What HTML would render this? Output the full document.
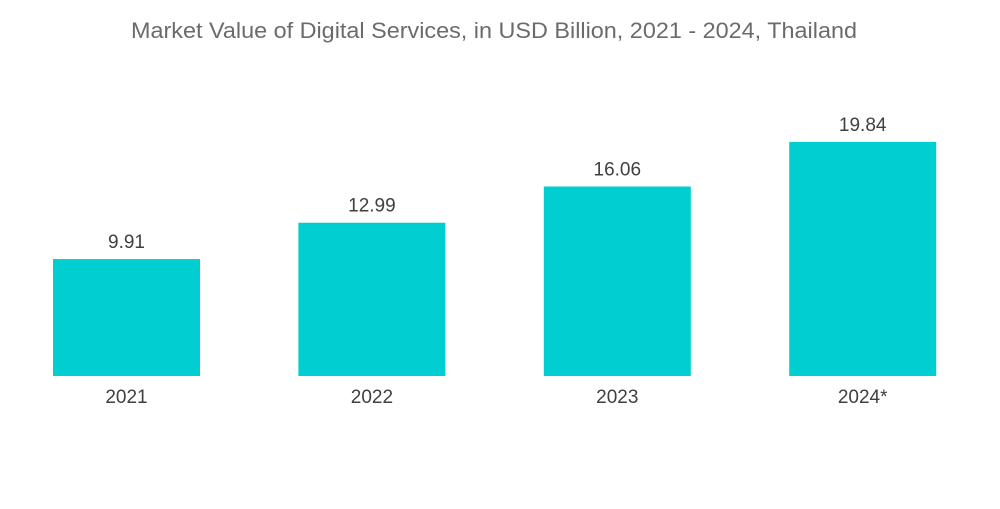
<!DOCTYPE html>
<html><head><meta charset="utf-8"><style>
body{margin:0;background:#fff;width:1000px;height:504px;overflow:hidden;font-family:"Liberation Sans",sans-serif}
</style></head><body>
<svg width="1000" height="504">
<text x="131" y="38" textLength="726" lengthAdjust="spacingAndGlyphs" font-size="22" fill="#6b6b6b">Market Value of Digital Services, in USD Billion,  2021 - 2024, Thailand</text>
<g id="bars"></g>
</svg>
<script>
const categories=["2021","2022","2023","2024*"];
const values=[9.91,12.99,16.06,19.84];
const valueLabels=["9.91","12.99","16.06","19.84"];
const baseY=376, pxPerUnit=11.8, x0=53, step=245.4, bw=147;
function xPos(i){return x0+i*step;}
function yPos(v){return baseY-v*pxPerUnit;}
const g=document.getElementById('bars');
const ns='http://www.w3.org/2000/svg';
categories.forEach((c,i)=>{
  const r=document.createElementNS(ns,'rect');
  r.setAttribute('x',xPos(i));r.setAttribute('y',yPos(values[i]));
  r.setAttribute('width',bw);r.setAttribute('height',baseY-yPos(values[i]));
  r.setAttribute('fill','#00ced1');
  
  
  g.appendChild(r);
  const t=document.createElementNS(ns,'text');
  t.setAttribute('x',xPos(i)+bw/2);t.setAttribute('y',yPos(values[i])-11);
  t.setAttribute('text-anchor','middle');t.setAttribute('font-size','19');t.setAttribute('fill','#404040');
  t.textContent=valueLabels[i];
  
  
  g.appendChild(t);
  const a=document.createElementNS(ns,'text');
  a.setAttribute('x',xPos(i)+bw/2);a.setAttribute('y',403);
  a.setAttribute('text-anchor','middle');a.setAttribute('font-size','19');a.setAttribute('fill','#404040');
  a.textContent=c;
  
  
  g.appendChild(a);
});
</script>
</body></html>
